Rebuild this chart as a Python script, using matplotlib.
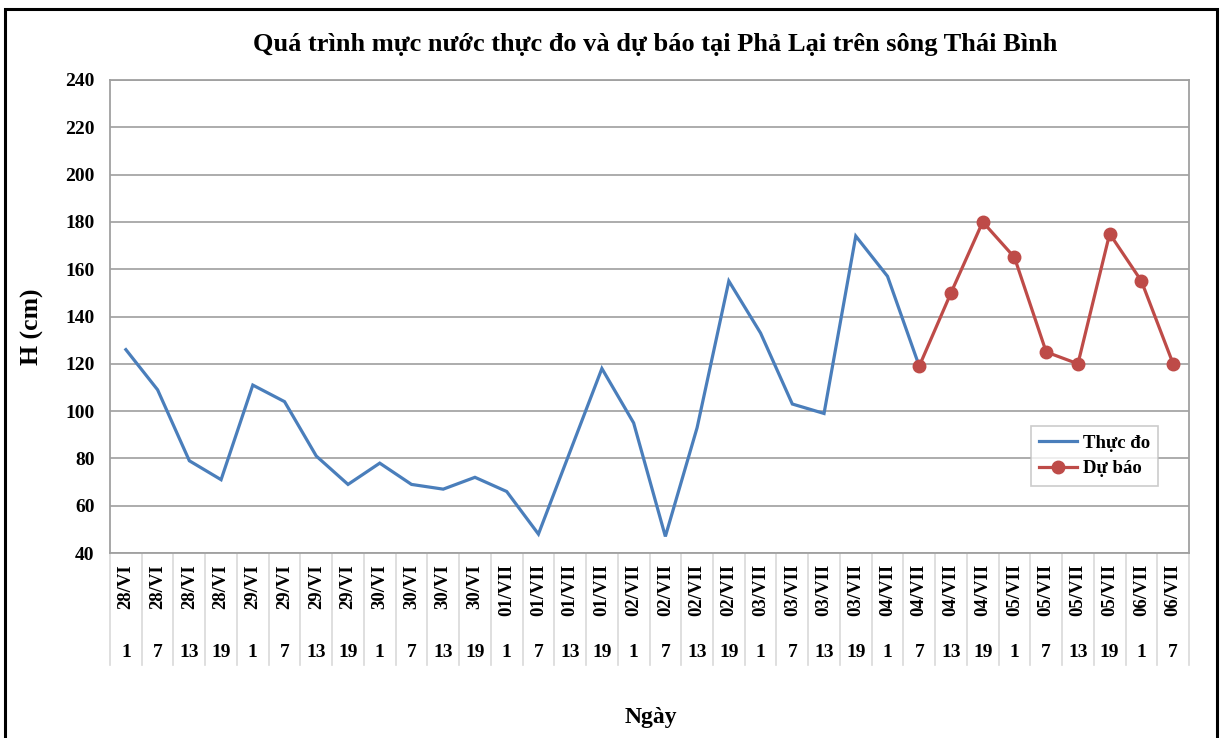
import matplotlib
matplotlib.use("Agg")
import matplotlib.pyplot as plt
from matplotlib.patches import Rectangle
from matplotlib.lines import Line2D
import matplotlib.transforms as mtransforms

# ---- data ----
dates = ["28/VI"] * 4 + ["29/VI"] * 4 + ["30/VI"] * 4 + ["01/VII"] * 4 + \
        ["02/VII"] * 4 + ["03/VII"] * 4 + ["04/VII"] * 4 + ["05/VII"] * 4 + ["06/VII"] * 2
hours = ["1", "7", "13", "19"] * 8 + ["1", "7"]
observed = [126, 109, 79, 71, 111, 104, 81, 69, 78, 69, 67, 72, 66, 48, 83, 118,
            95, 47, 93, 155, 133, 103, 99, 174, 157, 119]
forecast = [119, 150, 180, 165, 125, 120, 175, 155, 120]
yticks = [40, 60, 80, 100, 120, 140, 160, 180, 200, 220, 240]

title = "Quá trình mực nước thực đo và dự báo tại Phả Lại trên sông Thái Bình"
ylabel = "H (cm)"
xlabel = "Ngày"
names = ["Thực đo", "Dự báo"]

SERIF = ["Liberation Serif", "DejaVu Serif"]
plt.rcParams["font.family"] = SERIF
plt.rcParams["font.weight"] = "bold"

W, H = 1223, 738
fig = plt.figure(figsize=(W / 100, H / 100), dpi=100)
ax = fig.add_axes([110 / W, 1 - 553 / H, (1189 - 110) / W, (553 - 80) / H])

n = len(dates)
x_obs = list(range(len(observed)))
start_fc = len(observed) - 1
x_fc = list(range(start_fc, start_fc + len(forecast)))

blue = "#4A7EBB"
red = "#BE4B48"
ax.plot(x_obs, observed, color=blue, lw=2.3, solid_joinstyle="miter", zorder=3)
ax.plot(x_fc, forecast, color=red, lw=2.3, marker="o", markersize=9, zorder=4)

ax.set_xlim(-0.5, n - 0.5)
ax.set_ylim(yticks[0], yticks[-1])
ax.set_yticks(yticks)
ax.set_yticklabels([str(v) for v in yticks], fontsize=14, fontweight="bold")
ax.tick_params(axis="y", length=0, pad=11)
ax.yaxis.grid(True, color="#A6A6A6", lw=1.3)
ax.set_axisbelow(True)
for s in ax.spines.values():
    s.set_color("#A0A0A0")
    s.set_linewidth(1.3)

# category labels (date rotated, hour below)
ax.set_xticks(range(n))
ax.set_xticklabels(dates, rotation=90, fontsize=13.5, fontweight="bold", va="top")
ax.tick_params(axis="x", length=0, pad=8)
trans = mtransforms.blended_transform_factory(ax.transData, ax.transAxes)
for i, h in enumerate(hours):
    ax.text(i, -0.2114, h, transform=trans, ha="center", va="center",
            fontsize=14, fontweight="bold")
# table separators
depth = -(665 - 553) / (553 - 80)
for i in range(n + 1):
    ax.add_line(Line2D([i - 0.5, i - 0.5], [0, depth], transform=trans,
                       color="#D9D9D9", lw=1.2, clip_on=False))

# axis labels & title
fig.text(32 / W, 1 - 327 / H, ylabel, rotation=90, ha="center", va="center",
         fontsize=18.5, fontweight="bold")
fig.text(651 / W, 1 - 717 / H, xlabel, ha="center", va="center",
         fontsize=17, fontweight="bold")
fig.text(655 / W, 1 - 45 / H, title, ha="center", va="center",
         fontsize=19, fontweight="bold")

# legend
h1 = Line2D([], [], color=blue, lw=2.3)
h2 = Line2D([], [], color=red, lw=2.3, marker="o", markersize=9)
leg = ax.legend([h1, h2], names, loc="upper left",
                bbox_to_anchor=((1031 - 110) / (1189 - 110), 1 - (426 - 80) / (553 - 80)),
                prop={"family": SERIF, "weight": "bold", "size": 13.5},
                frameon=True, fancybox=False, edgecolor="#BFBFBF",
                handlelength=2.0, handletextpad=0.3, borderpad=0.45,
                labelspacing=0.45, borderaxespad=0)
leg.get_frame().set_linewidth(1.2)

# outer border
fig.add_artist(Rectangle((5 / W, -0.05), (1217 - 5) / W, 1.05 - 9 / H,
                         transform=fig.transFigure, fill=False,
                         edgecolor="black", lw=2.2))

fig.savefig("out.png", dpi=100, facecolor="white")
